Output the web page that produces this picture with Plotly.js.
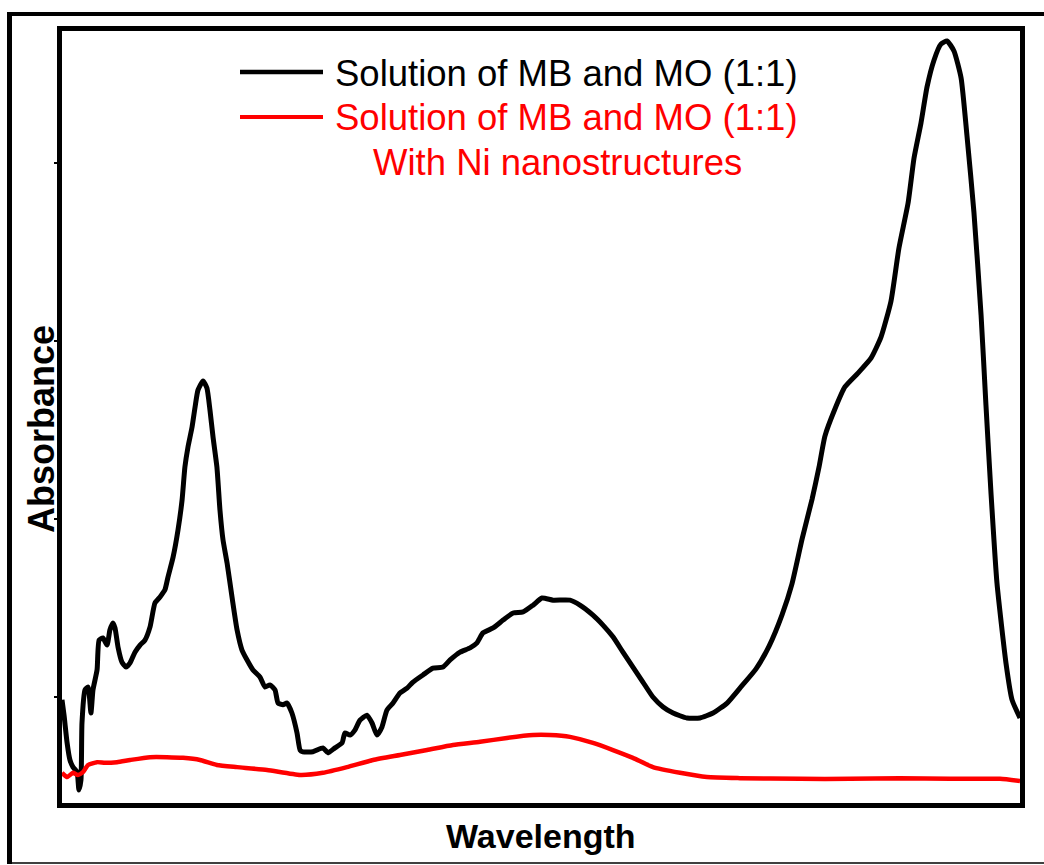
<!DOCTYPE html>
<html>
<head>
<meta charset="utf-8">
<script src="https://cdn.plot.ly/plotly-3.0.1.min.js"></script>
<style>
  html, body { margin: 0; padding: 0; background: #fff; }
  #chart { width: 1044px; height: 865px; }
</style>
</head>
<body>
<div id="chart"></div>
<script>
// UV-Vis absorption spectra of the MB + MO dye mixture (1:1)
// Wavelength in nm, absorbance in arbitrary units.

const mixWavelength = [230.0, 231.0, 232.5, 233.9, 235.4, 237.4, 238.3, 239.3, 239.8, 241.3,
  242.8, 244.2, 245.2, 247.2, 248.2, 250.1, 252.1, 253.5, 255.0, 256.0,
  257.5, 259.4, 261.4, 263.4, 265.8, 268.3, 270.7, 273.2, 275.6, 278.1,
  280.5, 282.0, 284.5, 286.9, 288.9, 290.3, 291.8, 293.8, 295.3, 296.7,
  299.2, 301.1, 302.6, 304.1, 306.0, 307.5, 309.0, 311.0, 313.4, 315.9,
  318.3, 320.8, 323.7, 327.1, 329.6, 332.0, 334.5, 336.0, 338.4, 340.4,
  342.8, 345.3, 346.8, 348.2, 353.1, 358.0, 360.5, 363.9, 367.4, 368.8,
  371.3, 373.7, 376.2, 379.6, 382.1, 384.5, 387.0, 389.4, 392.4, 395.8,
  399.3, 402.2, 407.1, 412.0, 416.9, 420.4, 425.3, 430.2, 433.6, 436.5,
  441.5, 446.4, 451.3, 456.2, 461.1, 465.5, 470.9, 479.2, 484.1, 490.5,
  495.4, 500.3, 505.2, 510.1, 515.0, 519.9, 524.9, 529.8, 536.6, 543.0,
  549.4, 556.3, 562.6, 570.5, 576.9, 583.2, 588.1, 593.1, 598.0, 601.4,
  604.3, 609.2, 614.1, 620.5, 626.9, 631.8, 636.7, 640.6, 645.1, 648.0,
  651.4, 654.4, 657.8, 661.2, 664.2, 667.6, 671.1, 674.0, 677.4, 680.9,
  683.3, 685.8, 688.7, 693.1, 696.1, 700.0];

const mixAbsorbance = [0.492, 0.449, 0.371, 0.323, 0.303, 0.289, 0.239, 0.267, 0.427, 0.520,
  0.528, 0.455, 0.520, 0.576, 0.660, 0.666, 0.646, 0.688, 0.708, 0.694,
  0.640, 0.598, 0.584, 0.596, 0.626, 0.646, 0.660, 0.697, 0.764, 0.781,
  0.801, 0.837, 0.893, 0.969, 1.053, 1.146, 1.202, 1.258, 1.315, 1.362,
  1.388, 1.368, 1.306, 1.230, 1.146, 1.025, 0.941, 0.876, 0.781, 0.688,
  0.632, 0.604, 0.576, 0.556, 0.528, 0.534, 0.520, 0.483, 0.478, 0.483,
  0.455, 0.399, 0.351, 0.346, 0.346, 0.357, 0.343, 0.357, 0.371, 0.399,
  0.393, 0.407, 0.435, 0.449, 0.427, 0.393, 0.416, 0.463, 0.483, 0.511,
  0.525, 0.542, 0.562, 0.581, 0.584, 0.604, 0.626, 0.638, 0.652, 0.680,
  0.694, 0.716, 0.736, 0.739, 0.758, 0.778, 0.772, 0.772, 0.758, 0.730,
  0.702, 0.669, 0.626, 0.584, 0.542, 0.500, 0.472, 0.455, 0.441, 0.441,
  0.455, 0.483, 0.525, 0.579, 0.643, 0.730, 0.817, 0.944, 1.056, 1.146,
  1.233, 1.309, 1.371, 1.410, 1.452, 1.511, 1.612, 1.761, 1.888, 2.014,
  2.112, 2.214, 2.289, 2.334, 2.343, 2.315, 2.239, 2.076, 1.862, 1.573,
  1.320, 1.070, 0.820, 0.596, 0.492, 0.441];

const niWavelength = [230.0, 232.5, 235.4, 237.8, 240.3, 242.8, 247.2, 251.1, 257.0, 263.4,
  273.2, 281.5, 289.4, 297.7, 306.0, 315.9, 330.6, 346.8, 358.0, 369.8,
  382.6, 395.8, 409.1, 421.8, 435.1, 448.3, 461.1, 469.4, 479.2, 490.5,
  500.3, 510.1, 519.9, 533.2, 546.4, 562.6, 592.1, 616.6, 641.1, 665.7,
  690.2, 700.0];

const niAbsorbance = [0.287, 0.275, 0.287, 0.281, 0.289, 0.309, 0.317, 0.315, 0.317, 0.323,
  0.331, 0.331, 0.329, 0.323, 0.309, 0.303, 0.295, 0.281, 0.287, 0.303,
  0.323, 0.337, 0.351, 0.365, 0.374, 0.385, 0.393, 0.393, 0.388, 0.371,
  0.351, 0.329, 0.303, 0.287, 0.275, 0.272, 0.270, 0.270, 0.272, 0.270,
  0.270, 0.264];

const seriesNames = ['Solution of MB and MO (1:1)', 'Solution of MB and MO (1:1)', 'With Ni nanostructures'];
const axisTitles = ['Wavelength', 'Absorbance'];
const absorbanceTicks = [0.5, 1.0, 1.5, 2.0];

// plot box geometry in page pixels
const W = 1044, H = 865;
const box = { left: 62, right: 1020, top: 31, bottom: 803 };
const px = (x) => (x - box.left) / (box.right - box.left);
const py = (y) => (box.bottom - y) / (box.bottom - box.top);

const traces = [
  {
    x: mixWavelength, y: mixAbsorbance, type: 'scatter', mode: 'lines',
    line: { color: '#000000', width: 5, shape: 'spline', smoothing: 0.5 },
    name: seriesNames[0], showlegend: false
  },
  {
    x: niWavelength, y: niAbsorbance, type: 'scatter', mode: 'lines',
    line: { color: '#ff0000', width: 4.5, shape: 'spline', smoothing: 0.5 },
    name: seriesNames[1], showlegend: false
  }
];

const labelFont = { family: 'Liberation Sans, Arial, sans-serif', size: 36.5 };

const layout = {
  width: W, height: H,
  paper_bgcolor: '#ffffff', plot_bgcolor: '#ffffff',
  margin: { l: box.left, r: W - box.right, t: box.top, b: H - box.bottom, pad: 0 },
  showlegend: false,
  xaxis: {
    range: [230, 700], showgrid: false, zeroline: false,
    showline: true, linecolor: '#000', linewidth: 5, mirror: true,
    ticks: '', showticklabels: false, fixedrange: true
  },
  yaxis: {
    range: [0.2022, 2.371], showgrid: false, zeroline: false,
    showline: true, linecolor: '#000', linewidth: 5, mirror: true,
    tickmode: 'array', tickvals: absorbanceTicks, ticks: 'outside', ticklen: 3, tickwidth: 2,
    tickcolor: '#000', showticklabels: false, fixedrange: true
  },
  annotations: [
    { xref: 'paper', yref: 'paper', x: px(541), y: py(836), xanchor: 'center', yanchor: 'middle',
      text: '<b>' + axisTitles[0] + '</b>', showarrow: false,
      font: { family: 'Liberation Sans, Arial, sans-serif', size: 34, color: '#000' } },
    { xref: 'paper', yref: 'paper', x: px(41), y: py(429), xanchor: 'center', yanchor: 'middle',
      text: '<b>' + axisTitles[1] + '</b>', showarrow: false, textangle: -90,
      font: { family: 'Liberation Sans, Arial, sans-serif', size: 36, color: '#000' } },
    { xref: 'paper', yref: 'paper', x: px(333), y: py(74), xanchor: 'left', yanchor: 'middle',
      text: seriesNames[0], showarrow: false, font: Object.assign({ color: '#000' }, labelFont) },
    { xref: 'paper', yref: 'paper', x: px(333), y: py(118), xanchor: 'left', yanchor: 'middle',
      text: seriesNames[1], showarrow: false, font: Object.assign({ color: '#ff0000' }, labelFont) },
    { xref: 'paper', yref: 'paper', x: px(557), y: py(162), xanchor: 'center', yanchor: 'middle',
      text: seriesNames[2], showarrow: false, font: Object.assign({ color: '#ff0000' }, labelFont) }
  ],
  shapes: [
    // legend keys
    { type: 'line', xref: 'paper', yref: 'paper', x0: px(240), x1: px(323), y0: py(72), y1: py(72),
      line: { color: '#000', width: 4.5 } },
    { type: 'line', xref: 'paper', yref: 'paper', x0: px(240), x1: px(323), y0: py(117), y1: py(117),
      line: { color: '#ff0000', width: 4 } },
    // outer figure frame
    { type: 'line', xref: 'paper', yref: 'paper', x0: px(9.5), x1: px(9.5), y0: py(12), y1: py(864),
      line: { color: '#000', width: 5 } },
    { type: 'line', xref: 'paper', yref: 'paper', x0: px(7), x1: px(1044), y0: py(14), y1: py(14),
      line: { color: '#000', width: 4 } },
    { type: 'line', xref: 'paper', yref: 'paper', x0: px(7), x1: px(1044), y0: py(863), y1: py(863),
      line: { color: '#000', width: 1.5 } }
  ]
};

Plotly.newPlot('chart', traces, layout, { displayModeBar: false, staticPlot: true });
</script>
</body>
</html>
